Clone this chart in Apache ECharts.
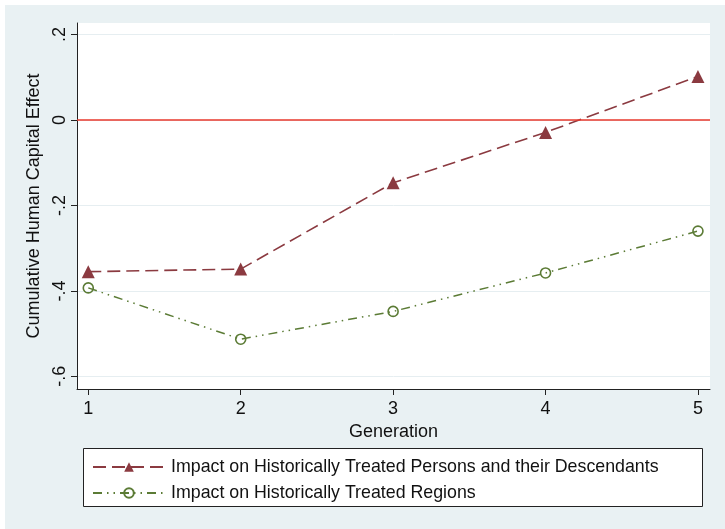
<!DOCTYPE html>
<html>
<head>
<meta charset="utf-8">
<script src="https://cdn.jsdelivr.net/npm/echarts@6/dist/echarts.min.js"></script>
<style>
  html, body { margin: 0; padding: 0; background: #ffffff; }
  #chart { position: absolute; left: 0; top: 0; width: 725px; height: 529px; }
</style>
</head>
<body>
<div id="chart"></div>
<script>
const generations = [1, 2, 3, 4, 5];
const personsEffect = [-0.355, -0.349, -0.147, -0.029, 0.102];
const regionsEffect = [-0.393, -0.513, -0.448, -0.358, -0.26];
const yTicks = [-0.6, -0.4, -0.2, 0, 0.2];
const xTicks = [1, 2, 3, 4, 5];

const seriesNames = [
  'Impact on Historically Treated Persons and their Descendants',
  'Impact on Historically Treated Regions'
];

const font = 'Liberation Sans, Arial, Helvetica, sans-serif';
const maroon = '#8b3a40';
const green = '#5b7b35';

function pairs(ys) { return generations.map((g, i) => [g, ys[i]]); }

const chart = echarts.init(document.getElementById('chart'));
chart.setOption({
  backgroundColor: '#ffffff',
  animation: false,
  graphic: [
    { type: 'rect', z: -10, shape: { x: 5, y: 5, width: 720, height: 524 }, style: { fill: '#e9f1f3' } },
    { type: 'rect', z: -9, shape: { x: 77, y: 23, width: 633, height: 366 }, style: { fill: '#ffffff' } },
    { type: 'rect', z: 0, shape: { x: 83.5, y: 448.5, width: 619, height: 58 }, style: { fill: '#ffffff', stroke: '#222', lineWidth: 1 } }
  ],
  grid: { left: 77, top: 23, right: 15, bottom: 140, containLabel: false },
  legend: {
    orient: 'vertical',
    left: 87,
    top: 453,
    itemWidth: 72,
    itemHeight: 12,
    itemGap: 8,
    textStyle: { fontFamily: font, fontSize: 17.8, color: '#111', padding: [0, 0, 0, 1] },
    data: seriesNames
  },
  xAxis: {
    type: 'value',
    min: 0.926,
    max: 5.079,
    name: 'Generation',
    nameLocation: 'middle',
    nameGap: 32,
    nameTextStyle: { fontFamily: font, fontSize: 18, color: '#111' },
    axisLine: { show: true, onZero: false, lineStyle: { color: '#222', width: 1 } },
    axisTick: { show: true, length: 6, customValues: xTicks, lineStyle: { color: '#222' } },
    axisLabel: { customValues: xTicks, fontFamily: font, fontSize: 18, color: '#111', margin: 11 },
    splitLine: { show: false }
  },
  yAxis: {
    type: 'value',
    min: -0.6296,
    max: 0.227,
    name: 'Cumulative Human Capital Effect',
    nameLocation: 'middle',
    nameGap: 31,
    nameTextStyle: { fontFamily: font, fontSize: 18, color: '#111' },
    axisLine: { show: true, onZero: false, lineStyle: { color: '#222', width: 1 } },
    axisTick: { show: true, length: 6, customValues: yTicks, lineStyle: { color: '#222' } },
    axisLabel: {
      customValues: yTicks,
      rotate: 90,
      fontFamily: font, fontSize: 18, color: '#111', margin: 8,
      formatter: v => (Math.abs(v) < 1e-9 ? '0' : v.toFixed(1).replace('0.', '.'))
    },
    splitLine: { show: true, lineStyle: { color: '#e6eef1', width: 1 } }
  },
  series: [
    {
      name: seriesNames[0],
      type: 'line',
      data: pairs(personsEffect),
      symbol: 'triangle',
      symbolSize: 13,
      z: 4,
      itemStyle: { color: maroon },
      lineStyle: { color: maroon, width: 1.6, type: [13, 6] },
      markLine: {
        silent: true,
        symbol: 'none',
        label: { show: false },
        lineStyle: { color: '#e8392d', width: 1.5, type: 'solid' },
        data: [{ yAxis: 0 }]
      }
    },
    {
      name: seriesNames[1],
      type: 'line',
      data: pairs(regionsEffect),
      symbol: 'circle',
      symbolSize: 10,
      z: 3,
      itemStyle: { color: 'rgba(255,255,255,0)', borderColor: green, borderWidth: 1.6 },
      lineStyle: { color: green, width: 1.5, type: [9, 5, 1.5, 5, 1.5, 5] }
    }
  ]
});
</script>
</body>
</html>
